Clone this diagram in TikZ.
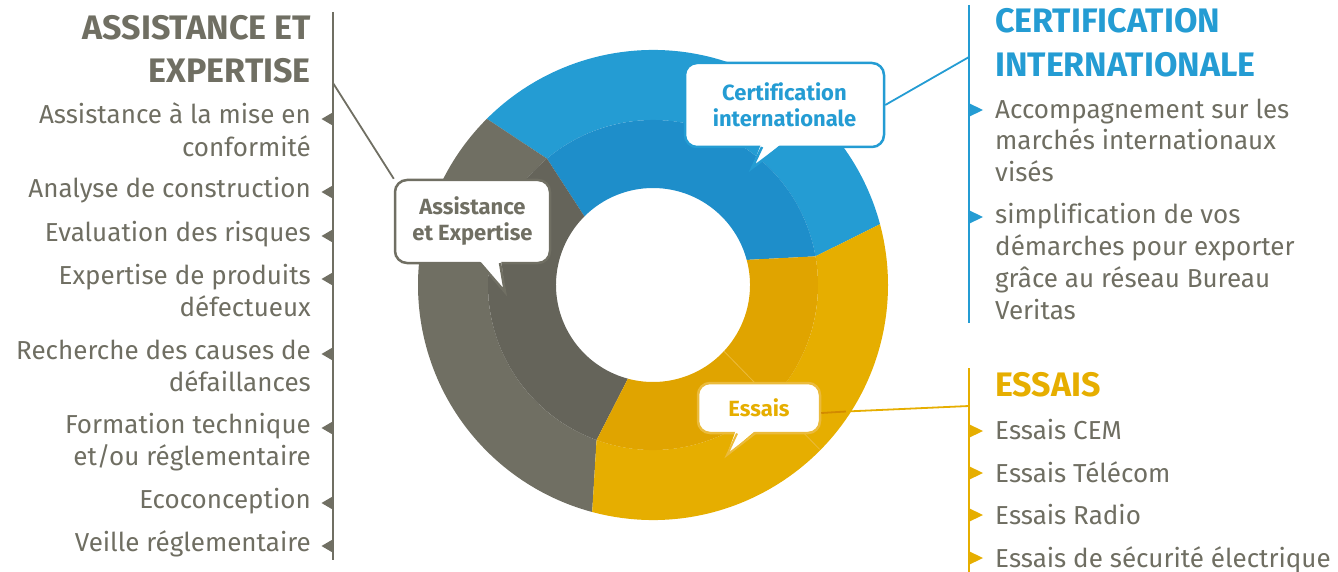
\documentclass[tikz,border=0pt]{standalone}
\usepackage{fontspec}
\setmainfont{Fira Sans}[Ligatures=NoCommon]
\usetikzlibrary{calc}
\definecolor{cgray}{HTML}{706F63}
\definecolor{cgrayin}{HTML}{65645A}
\definecolor{cblue}{HTML}{249CD3}
\definecolor{cbluein}{HTML}{1E8ECA}
\definecolor{cyel}{HTML}{E6AE00}
\definecolor{cyelin}{HTML}{E0A400}
\definecolor{cyellt}{HTML}{EBBB3C}
\definecolor{cyeldk}{HTML}{D28A00}
\definecolor{ctext}{HTML}{6F6E62}
\newcommand\bodyfont{\fontsize{26}{32}\selectfont}
\newcommand\headfont{\fontsize{34}{40}\selectfont\bfseries}
\newcommand\callfont{\fontsize{22}{26}\selectfont\bfseries}
\tikzset{
  litem/.style={anchor=base east, inner sep=0pt, text=ctext, font=\bodyfont},
  ritem/.style={anchor=base west, inner sep=0pt, text=ctext, font=\bodyfont},
  lhead/.style={anchor=base east, inner sep=0pt, font=\headfont},
  rhead/.style={anchor=base west, inner sep=0pt, font=\headfont},
  callbox/.style={draw=#1, fill=white, line width=2.5pt, rounded corners=12pt,
    inner sep=0pt, align=center, font=\callfont, text=#1},
  conn/.style={draw=#1, line width=1.8pt},
  vline/.style={draw=#1, line width=2pt},
}
\begin{document}
\begin{tikzpicture}[x=1pt,y=-1pt]
\useasboundingbox (0,0) rectangle (1338,572);

% donut
\begin{scope}[shift={(653,285)}, yscale=-1]
  \fill[cblue] (15:235) arc[start angle=15,end angle=135,radius=235] -- (130:165) arc[start angle=130,end angle=10,radius=165] -- cycle;
  \fill[cbluein] (10:165) arc[start angle=10,end angle=130,radius=165] -- (135:97) arc[start angle=135,end angle=15,radius=97] -- cycle;
  \fill[cgray] (135:235) arc[start angle=135,end angle=255,radius=235] -- (250:165) arc[start angle=250,end angle=130,radius=165] -- cycle;
  \fill[cgrayin] (130:165) arc[start angle=130,end angle=250,radius=165] -- (255:97) arc[start angle=255,end angle=135,radius=97] -- cycle;
  \fill[cyel] (255:235) arc[start angle=255,end angle=375,radius=235] -- (370:165) arc[start angle=370,end angle=250,radius=165] -- cycle;
  \fill[cyelin] (250:165) arc[start angle=250,end angle=370,radius=165] -- (375:97) arc[start angle=375,end angle=255,radius=97] -- cycle;
  \draw[cyellt, line width=0.8pt] (-43:97) -- (-44.6:234);
\end{scope}

% vertical lines
\coordinate (gtop) at (333,12);
\coordinate (gbot) at (333,560);
\coordinate (btop) at (969,5);
\coordinate (bbot) at (969,323);
\coordinate (ytop) at (969,368);
\coordinate (ybot) at (969,572);
\draw[vline=cgray] (gtop) -- (gbot);
\draw[vline=cblue] (btop) -- (bbot);
\draw[vline=cyel] (ytop) -- (ybot);
\coordinate (gA) at (333,83);
\coordinate (bA) at (969,57);
\coordinate (yA) at (969,406);

% callouts
\node[callbox=cblue, minimum width=199pt, minimum height=84pt] (cert) at (784.5,105) {Certification\\internationale};
\fill[white] (761,144) -- (752,168) -- (781,144) -- cycle;
\draw[cblue, line width=2.5pt, line join=miter] (762,147) -- (752,168) -- (780,147);

\node[callbox=cgray, minimum width=155pt, minimum height=83pt] (assist) at (472.5,221.5) {Assistance\\et Expertise};
\fill[white] (479,260) -- (505,292) -- (501,260) -- cycle;
\draw[cgray, line width=2.5pt, line join=miter] (480,263) -- (505,292) -- (500,263);

% yellow connector (darker where it crosses the donut)
\coordinate (yM) at (846,411.5);
\node[callbox=cyel, draw=cyellt, minimum width=122pt, minimum height=50pt] (essais) at (759,408) {Essais};
\draw[conn=cyeldk] ([yshift=-5pt]essais.east) -- (yM);
\draw[conn=cyel] (yM) -- (yA);
\fill[white] (736,430) -- (727,455) -- (756,430) -- cycle;
\draw[cyellt, line width=2pt, line join=miter] (737,433.5) -- (727,455) -- (755,433.5);

% connectors
\draw[conn=cgray] (gA) -- (assist.north west);
\draw[conn=cblue] (cert.east) -- (bA);

% markers
\foreach \y in {119,192,236,279,354,428,503,546}
  \fill[cgray] (321.5,\y) -- (333.5,\y-7) -- (333.5,\y+7) -- cycle;
\foreach \y in {110,217}
  \fill[cblue] (983,\y) -- (968.5,\y-7) -- (968.5,\y+7) -- cycle;
\foreach \y in {431,473,515,558}
  \fill[cyel] (983,\y) -- (968.5,\y-7) -- (968.5,\y+7) -- cycle;

% left texts
\node[lhead, text=cgray] (lh1) at (311,40) {ASSISTANCE ET};
\node[lhead, text=cgray] (lh2) at (311,83) {EXPERTISE};
\node[litem] (l1) at (311,124) {Assistance à la mise en};
\node[litem] (l1b) at (311,157) {conformité};
\node[litem] (l2) at (311,197) {Analyse de construction};
\node[litem] (l3) at (311,241) {Evaluation des risques};
\node[litem] (l4) at (311,284) {Expertise de produits};
\node[litem] (l4b) at (311,316) {défectueux};
\node[litem] (l5) at (311,359) {Recherche des causes de};
\node[litem] (l5b) at (311,391) {défaillances};
\node[litem] (l6) at (311,433) {Formation technique};
\node[litem] (l6b) at (311,465) {et/ou réglementaire};
\node[litem] (l7) at (311,508) {Ecoconception};
\node[litem] (l8) at (311,551) {Veille réglementaire};

% right blue texts
\node[rhead, text=cblue] (rh1) at (995,33) {CERTIFICATION};
\node[rhead, text=cblue] (rh2) at (995,77) {INTERNATIONALE};
\node[ritem] (r1) at (995,119) {Accompagnement sur les};
\node[ritem] (r1b) at (995,150) {marchés internationaux};
\node[ritem] (r1c) at (995,182) {visés};
\node[ritem] (r2) at (995,223) {simplification de vos};
\node[ritem] (r2b) at (995,255) {démarches pour exporter};
\node[ritem] (r2c) at (995,287) {grâce au réseau Bureau};
\node[ritem] (r2d) at (995,319) {Veritas};

% right yellow texts
\node[rhead, text=cyel] (eh) at (995,396) {ESSAIS};
\node[ritem] (e1) at (995,439) {Essais CEM};
\node[ritem] (e2) at (995,482) {Essais Télécom};
\node[ritem] (e3) at (995,524) {Essais Radio};
\node[ritem] (e4) at (995,567) {Essais de sécurité électrique};
\end{tikzpicture}
\end{document}
